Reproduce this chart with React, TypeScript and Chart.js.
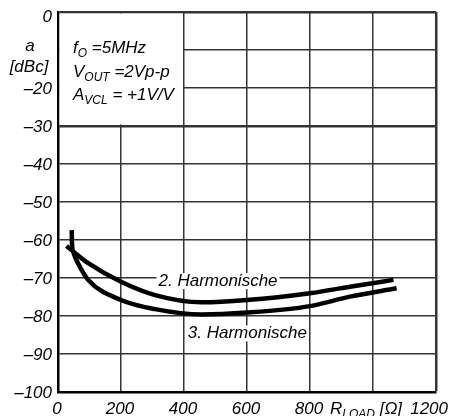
import React, { useEffect, useRef } from 'react';
import { Chart, registerables } from 'chart.js';

Chart.register(...registerables);

// ---- data ----
const h2X = [27, 48, 96, 200, 308, 456, 600, 800, 927, 1065];
const h2Y = [-61.6, -63, -66.1, -71, -74.5, -76.4, -75.8, -74, -72.3, -70.5];
const h3X = [43.5, 44.5, 48, 64, 96, 200, 308, 456, 600, 800, 927, 1075];
const h3Y = [-57.4, -61, -63, -66.2, -70.5, -75.8, -78.2, -79.6, -79.1, -77.4, -74.9, -72.7];

const xTickValues = [0, 200, 400, 600, 800, 1000, 1200];
const xTickLabels = ['0', '200', '400', '600', '800', '', '1200'];
const yTickValues = [0, -10, -20, -30, -40, -50, -60, -70, -80, -90, -100];
const yTickLabels = ['0', '', '\u201320', '\u201330', '\u201340', '\u201350', '\u201360', '\u201370', '\u201380', '\u201390', '\u2013100'];

const seriesNames = ['2. Harmonische', '3. Harmonische'];
const seriesLabelPos = [
  { x: 508, y: -70.8 },
  { x: 601, y: -84.6 },
];

const FONT_FAMILY = '"Liberation Sans", Arial, sans-serif';
const FS = 17;

type Part = { t: string; sub?: boolean };

function drawRich(ctx: CanvasRenderingContext2D, parts: Part[], x: number, y: number) {
  let cx = x;
  ctx.textAlign = 'left';
  ctx.textBaseline = 'alphabetic';
  for (const p of parts) {
    ctx.font = `italic ${p.sub ? 12 : FS}px ${FONT_FAMILY}`;
    ctx.fillText(p.t, cx, p.sub ? y + 4 : y);
    cx += ctx.measureText(p.t).width;
  }
}

const decorPlugin = {
  id: 'decor',
  beforeDatasetsDraw(chart: any) {
    const { ctx, scales } = chart;
    const xs = scales.x;
    const ys = scales.y;
    const x0 = xs.getPixelForValue(0);
    const x1 = xs.getPixelForValue(400);
    const y0 = ys.getPixelForValue(0);
    const y1 = ys.getPixelForValue(-30);
    ctx.save();
    ctx.fillStyle = '#ffffff';
    ctx.fillRect(x0 + 1.5, y0 + 1.5, x1 - x0 - 2.5, y1 - y0 - 3);
    ctx.restore();
  },
  afterDatasetsDraw(chart: any) {
    const { ctx, scales } = chart;
    const xs = scales.x;
    const ys = scales.y;
    ctx.save();
    ctx.fillStyle = '#000000';

    // series labels with white background
    ctx.font = `italic ${FS}px ${FONT_FAMILY}`;
    ctx.textAlign = 'center';
    ctx.textBaseline = 'middle';
    seriesNames.forEach((name, i) => {
      const px = xs.getPixelForValue(seriesLabelPos[i].x);
      const py = ys.getPixelForValue(seriesLabelPos[i].y);
      const w = ctx.measureText(name).width;
      ctx.fillStyle = '#ffffff';
      ctx.fillRect(px - w / 2 - 2, py - 8, w + 4, 16);
      ctx.fillStyle = '#000000';
      ctx.fillText(name, px, py);
    });

    // y tick labels
    ctx.font = `italic ${FS}px ${FONT_FAMILY}`;
    ctx.textAlign = 'right';
    ctx.textBaseline = 'middle';
    yTickValues.forEach((v, i) => {
      if (!yTickLabels[i]) return;
      const py = ys.getPixelForValue(v) + (i === 0 ? 5 : 1);
      ctx.fillText(yTickLabels[i], xs.left - 6, py);
    });

    // x tick labels
    ctx.textBaseline = 'alphabetic';
    xTickValues.forEach((v, i) => {
      if (!xTickLabels[i]) return;
      const px = xs.getPixelForValue(v);
      if (i === xTickValues.length - 1) {
        ctx.textAlign = 'right';
        ctx.fillText(xTickLabels[i], chart.width - 1, 414);
      } else {
        ctx.textAlign = 'center';
        ctx.fillText(xTickLabels[i], px - 1, 414);
      }
    });

    // y axis title
    ctx.textAlign = 'center';
    ctx.fillText('a', 30, 51);
    ctx.fillText('[dBc]', 29, 72);

    // x axis title
    drawRich(ctx, [{ t: 'R' }, { t: 'LOAD', sub: true }, { t: ' [\u03A9]' }], 330, 414);

    // conditions box
    drawRich(ctx, [{ t: 'f' }, { t: 'O', sub: true }, { t: ' =5MHz' }], 73, 53);
    drawRich(ctx, [{ t: 'V' }, { t: 'OUT', sub: true }, { t: ' =2Vp-p' }], 73, 77);
    drawRich(ctx, [{ t: 'A' }, { t: 'VCL', sub: true }, { t: ' = +1V/V' }], 73, 100);

    ctx.restore();
  },
};

export default function App() {
  const ref = useRef<HTMLCanvasElement>(null);

  useEffect(() => {
    if (!ref.current) return;
    const mk = (xs: number[], ys: number[]) => xs.map((x, i) => ({ x, y: ys[i] }));
    const chart = new Chart(ref.current, {
      type: 'line',
      data: {
        datasets: [
          {
            label: seriesNames[0],
            data: mk(h2X, h2Y),
            borderColor: '#000',
            borderWidth: 4.5,
            pointRadius: 0,
            cubicInterpolationMode: 'monotone',
            fill: false,
          },
          {
            label: seriesNames[1],
            data: mk(h3X, h3Y),
            borderColor: '#000',
            borderWidth: 4.5,
            pointRadius: 0,
            cubicInterpolationMode: 'monotone',
            fill: false,
          },
        ],
      },
      options: {
        responsive: false,
        animation: false,
        events: [],
        layout: { padding: { left: 58, top: 12, right: 13, bottom: 24 } },
        plugins: { legend: { display: false }, tooltip: { enabled: false } },
        scales: {
          x: {
            type: 'linear',
            min: 0,
            max: 1200,
            ticks: { display: false, stepSize: 200 },
            grid: {
              color: '#333',
              lineWidth: (c: any) => (c.tick && c.tick.value === 1200 ? 2.5 : 1.5),
              drawTicks: false,
            },
            border: { color: '#000', width: 2.5 },
          },
          y: {
            type: 'linear',
            min: -100,
            max: 0,
            ticks: { display: false, stepSize: 10 },
            grid: {
              color: '#333',
              lineWidth: (c: any) => (c.tick && (c.tick.value === 0 || c.tick.value === -30) ? 2.5 : 1.5),
              drawTicks: false,
            },
            border: { color: '#000', width: 2.5 },
          },
        },
      },
      plugins: [decorPlugin],
    } as any);
    return () => chart.destroy();
  }, []);

  return (
    <div style={{ position: 'absolute', left: 0, top: 0, width: 449, height: 416, background: '#fff' }}>
      <canvas ref={ref} width={449} height={416} />
    </div>
  );
}
